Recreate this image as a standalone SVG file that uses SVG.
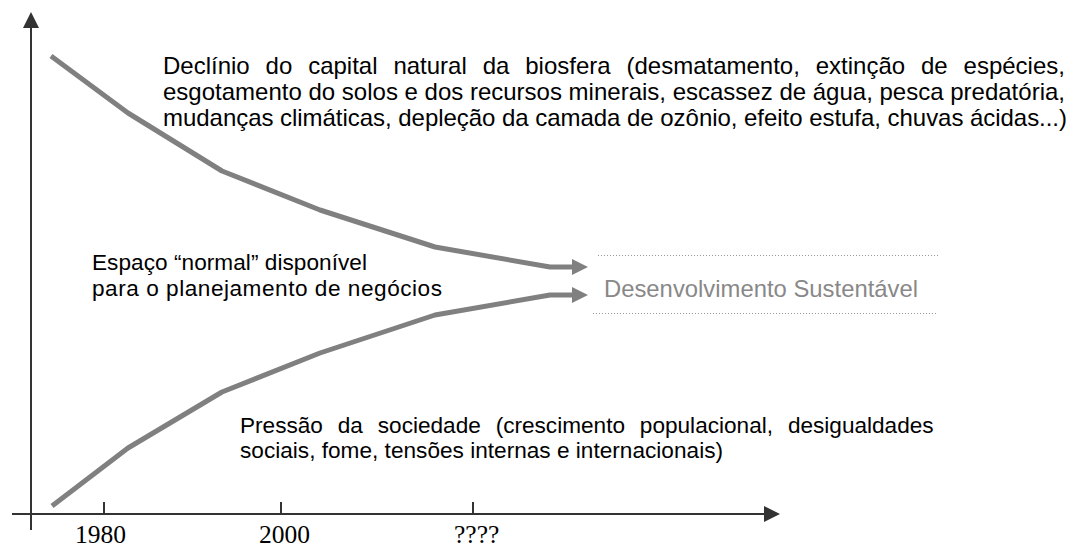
<svg xmlns="http://www.w3.org/2000/svg" width="1082" height="546" viewBox="0 0 1082 546">
<style>
.axis{stroke:#333;stroke-width:2;fill:none}
.ah{fill:#333}
.curve{stroke:#808080;stroke-width:5;fill:none;stroke-linejoin:round}
.ch{fill:#808080}
.dot{stroke:#999;stroke-width:1;stroke-dasharray:1 2;fill:none}
.t{font-family:"Liberation Sans",Arial,sans-serif;font-size:22.6px;fill:#000}
.tb{font-family:"Liberation Sans",Arial,sans-serif;font-size:24px;fill:#000}
.g{font-family:"Liberation Sans",Arial,sans-serif;font-size:23.8px;fill:#888}
.d{font-family:"Liberation Serif","Times New Roman",serif;font-size:25.5px;fill:#000}
</style>
<rect width="1082" height="546" fill="#fff"/>
<g id="axes">
<line class="axis" x1="31" y1="26" x2="31" y2="530"/>
<polygon class="ah" points="31,12 23,28 39,28"/>
<line class="axis" x1="12" y1="514" x2="766" y2="514"/>
<polygon class="ah" points="780,514 764,506 764,522"/>
<line class="axis" x1="104" y1="502" x2="104" y2="514"/>
<line class="axis" x1="281" y1="502" x2="281" y2="514"/>
<line class="axis" x1="473" y1="502" x2="473" y2="514"/>
<text class="d" x="75" y="543">1980</text>
<text class="d" x="259" y="543">2000</text>
<text class="d" x="454" y="543">????</text>
</g>
<g id="connectors">
<polyline class="curve" points="51,56 128,113 222,171 320,210 435,247 550,267 574,267"/>
<polygon class="ch" points="572,259 588,267 572,275"/>
<polyline class="curve" points="52,506 128,448 222,392 320,353 435,315 550,295 574,295"/>
<polygon class="ch" points="572,287 588,295 572,303"/>
</g>
<g id="declinio">
<text class="tb" x="163" y="74" word-spacing="9.2">Declínio do capital natural da biosfera (desmatamento, extinção de espécies,</text>
<text class="tb" x="163" y="100" textLength="902" lengthAdjust="spacing">esgotamento do solos e dos recursos minerais, escassez de água, pesca predatória,</text>
<text class="tb" x="163" y="125.5" textLength="904" lengthAdjust="spacing">mudanças climáticas, depleção da camada de ozônio, efeito estufa, chuvas ácidas...)</text>
</g>
<g id="espaco">
<text class="t" x="92" y="270" textLength="275" lengthAdjust="spacing">Espaço “normal” disponível</text>
<text class="t" x="92" y="295.5" textLength="350" lengthAdjust="spacing">para o planejamento de negócios</text>
</g>
<g id="desenvolvimento">
<line class="dot" x1="598" y1="255.5" x2="938" y2="255.5"/>
<text class="g" x="604" y="296.5" textLength="314" lengthAdjust="spacing">Desenvolvimento Sustentável</text>
<line class="dot" x1="593" y1="313.5" x2="938" y2="313.5"/>
</g>
<g id="pressao">
<text class="t" x="240" y="433" word-spacing="8.6">Pressão da sociedade (crescimento populacional, desigualdades</text>
<text class="t" x="240" y="458" textLength="483" lengthAdjust="spacing">sociais, fome, tensões internas e internacionais)</text>
</g>
</svg>
